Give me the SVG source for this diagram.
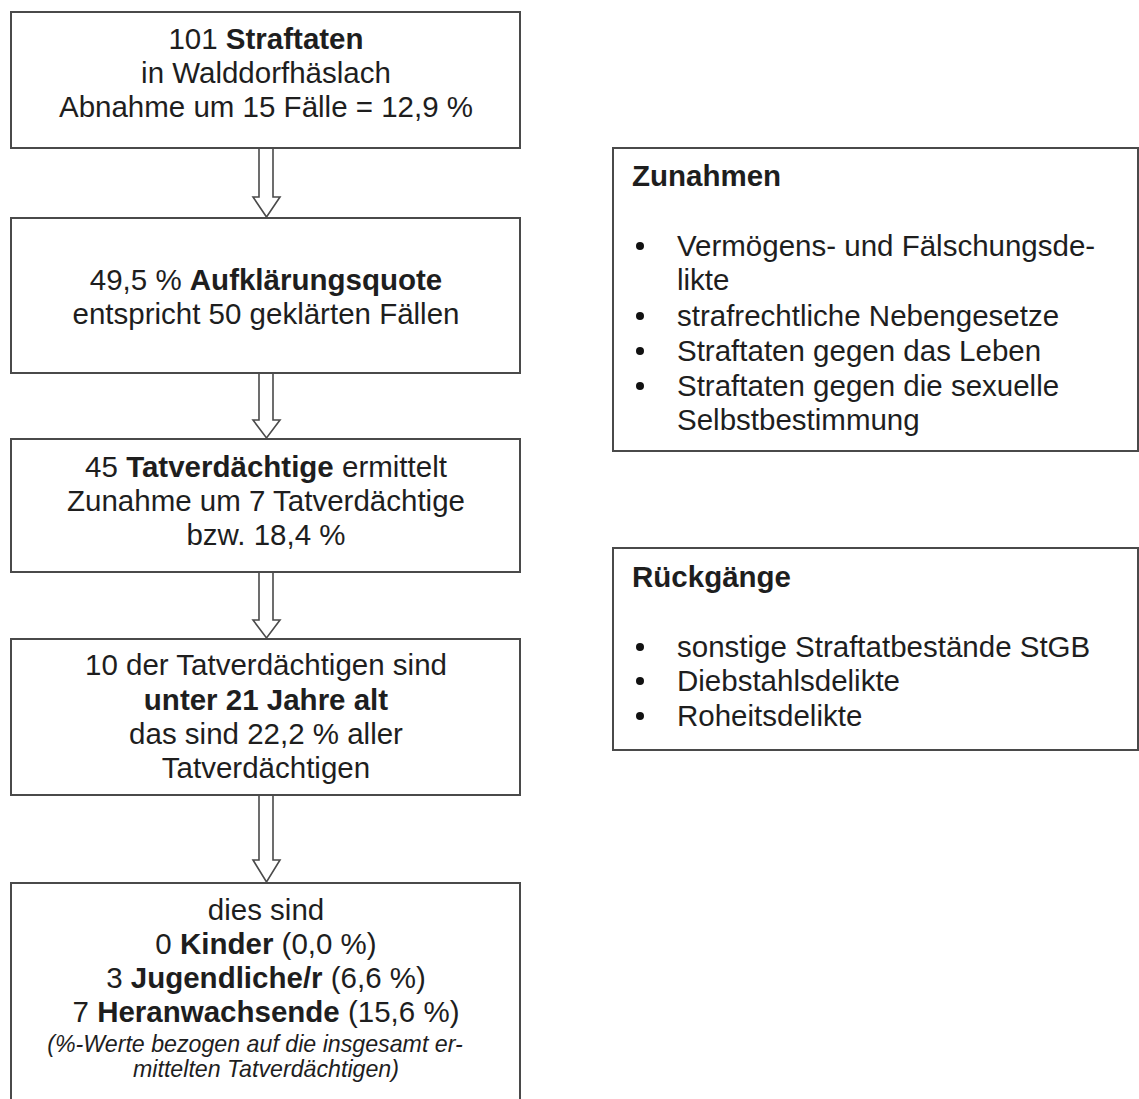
<svg xmlns="http://www.w3.org/2000/svg" width="1139" height="1099" viewBox="0 0 1139 1099">
<style>
.box{fill:#fff;stroke:#4a4a4a;stroke-width:2}
.t{font-family:"Liberation Sans",Arial,sans-serif;font-size:29.5px;fill:#1e1e1e}
.c{text-anchor:middle}
.b{font-weight:bold}
.i{font-style:italic;font-size:23.2px}
.arr{fill:#fff;stroke:#4a4a4a;stroke-width:1.6;stroke-linejoin:miter}
.dot{fill:#111}
</style>
<rect width="1139" height="1099" fill="#fff"/>
<g id="connectors">
<path class="arr" d="M259,148 V197 H253 L266.5,217 L280,197 H273 V148"/>
<path class="arr" d="M259,373 V420 H253 L266.5,438 L280,420 H273 V373"/>
<path class="arr" d="M259,572 V620 H253 L266.5,638 L280,620 H273 V572"/>
<path class="arr" d="M259,795 V860 H253 L266.5,882 L280,860 H273 V795"/>
</g>
<g id="n1">
<rect class="box" x="11" y="12" width="509" height="136"/>
<text class="t c" x="266" y="49">101 <tspan class="b">Straftaten</tspan></text>
<text class="t c" x="266" y="83">in Walddorfhäslach</text>
<text class="t c" x="266" y="117">Abnahme um 15 Fälle = 12,9 %</text>
</g>
<g id="n2">
<rect class="box" x="11" y="218" width="509" height="155"/>
<text class="t c" x="266" y="290">49,5 % <tspan class="b">Aufklärungsquote</tspan></text>
<text class="t c" x="266" y="324">entspricht 50 geklärten Fällen</text>
</g>
<g id="n3">
<rect class="box" x="11" y="439" width="509" height="133"/>
<text class="t c" x="266" y="477">45 <tspan class="b">Tatverdächtige</tspan> ermittelt</text>
<text class="t c" x="266" y="511">Zunahme um 7 Tatverdächtige</text>
<text class="t c" x="266" y="545">bzw. 18,4 %</text>
</g>
<g id="n4">
<rect class="box" x="11" y="639" width="509" height="156"/>
<text class="t c" x="266" y="675">10 der Tatverdächtigen sind</text>
<text class="t c b" x="266" y="710">unter 21 Jahre alt</text>
<text class="t c" x="266" y="744">das sind 22,2 % aller</text>
<text class="t c" x="266" y="778">Tatverdächtigen</text>
</g>
<g id="n5">
<rect class="box" x="11" y="883" width="509" height="240"/>
<text class="t c" x="266" y="920">dies sind</text>
<text class="t c" x="266" y="954">0 <tspan class="b">Kinder</tspan> (0,0 %)</text>
<text class="t c" x="266" y="988">3 <tspan class="b">Jugendliche/r</tspan> (6,6 %)</text>
<text class="t c" x="266" y="1022">7 <tspan class="b">Heranwachsende</tspan> (15,6 %)</text>
<text class="t c i" x="255" y="1052">(%-Werte bezogen auf die insgesamt er-</text>
<text class="t c i" x="266" y="1077">mittelten Tatverdächtigen)</text>
</g>
<g id="zunahmen">
<rect class="box" x="613" y="148" width="525" height="303"/>
<text class="t b" x="632" y="186">Zunahmen</text>
<circle class="dot" cx="640" cy="246" r="4"/>
<circle class="dot" cx="640" cy="316" r="4"/>
<circle class="dot" cx="640" cy="351" r="4"/>
<circle class="dot" cx="640" cy="386" r="4"/>
<text class="t" x="677" y="256">Vermögens- und Fälschungsde-</text>
<text class="t" x="677" y="290">likte</text>
<text class="t" x="677" y="326">strafrechtliche Nebengesetze</text>
<text class="t" x="677" y="361">Straftaten gegen das Leben</text>
<text class="t" x="677" y="396">Straftaten gegen die sexuelle</text>
<text class="t" x="677" y="430">Selbstbestimmung</text>
</g>
<g id="rueckgaenge">
<rect class="box" x="613" y="548" width="525" height="202"/>
<text class="t b" x="632" y="587">Rückgänge</text>
<circle class="dot" cx="640" cy="647" r="4"/>
<circle class="dot" cx="640" cy="681" r="4"/>
<circle class="dot" cx="640" cy="716" r="4"/>
<text class="t" x="677" y="657">sonstige Straftatbestände StGB</text>
<text class="t" x="677" y="691">Diebstahlsdelikte</text>
<text class="t" x="677" y="726">Roheitsdelikte</text>
</g>
</svg>
